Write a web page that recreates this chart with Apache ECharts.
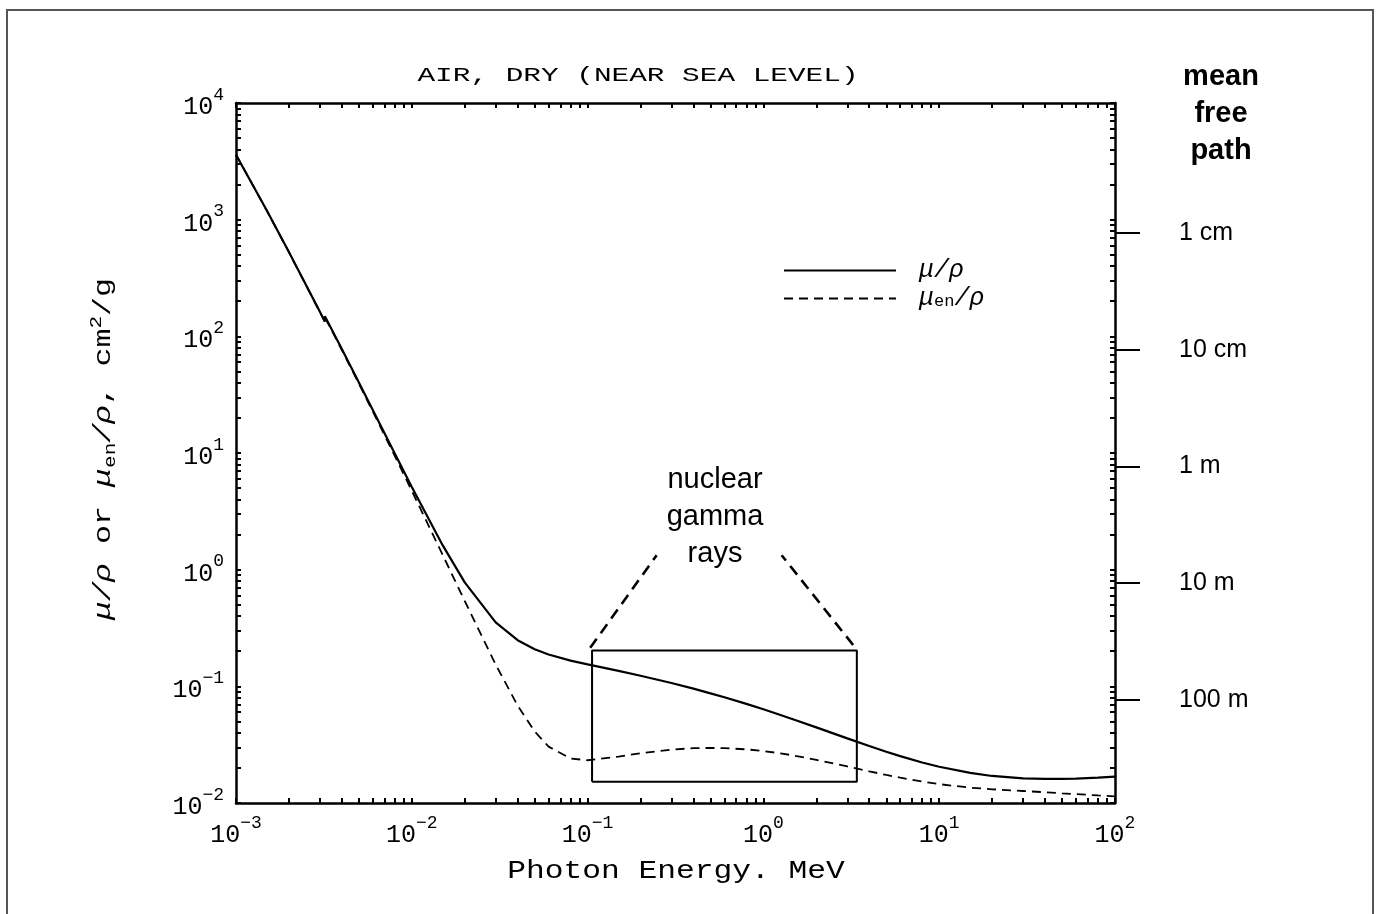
<!DOCTYPE html>
<html>
<head>
<meta charset="utf-8">
<script src="https://cdn.jsdelivr.net/npm/echarts@6/dist/echarts.min.js"></script>
<style>
  html, body { margin: 0; padding: 0; background: #fff; }
  #chart { width: 1377px; height: 914px; }
</style>
</head>
<body>
<div id="chart"></div>
<script>
// Photon energies (MeV) for dry air near sea level; the argon K edge appears twice
const energies = [1e-3, 1.5e-3, 2e-3, 3e-3, 3.2029e-3, 3.2029e-3, 4e-3, 5e-3, 6e-3, 8e-3,
  1e-2, 1.5e-2, 2e-2, 3e-2, 4e-2, 5e-2, 6e-2, 8e-2, 0.1, 0.15, 0.2, 0.3, 0.4, 0.5, 0.6, 0.8,
  1, 1.25, 1.5, 2, 3, 4, 5, 6, 8, 10, 15, 20, 30, 40, 50, 60, 80, 100];
// Mass attenuation coefficient mu/rho, cm^2/g
const muRho = [3606, 1191, 527.9, 162.5, 134.0, 148.5, 77.88, 40.27, 23.41, 9.921,
  5.120, 1.614, 0.7779, 0.3538, 0.2485, 0.2080, 0.1875, 0.1662, 0.1541, 0.1356, 0.1233, 0.1067, 0.09549, 0.08712, 0.08055, 0.07074,
  0.06358, 0.05687, 0.05175, 0.04447, 0.03581, 0.03079, 0.02751, 0.02522, 0.02225, 0.02045, 0.01810, 0.01705, 0.01624, 0.01607, 0.01610, 0.01620, 0.01649, 0.01681];
// Mass energy-absorption coefficient mu_en/rho, cm^2/g
const muEnRho = [3599, 1188, 526.2, 161.4, 133.0, 146.0, 76.36, 39.31, 22.70, 9.446,
  4.742, 1.334, 0.5389, 0.1537, 0.06833, 0.04098, 0.03041, 0.02407, 0.02325, 0.02496, 0.02672, 0.02872, 0.02949, 0.02966, 0.02953, 0.02882,
  0.02789, 0.02666, 0.02547, 0.02345, 0.02057, 0.01870, 0.01740, 0.01647, 0.01525, 0.01450, 0.01353, 0.01311, 0.01267, 0.01237, 0.01211, 0.01192, 0.01161, 0.01139];

// Nuclear gamma-ray window (MeV, cm^2/g) and its callout lines
const boxEnergy = [0.106, 3.4];
const boxCoef = [0.0152, 0.203];
const leftCallout = [[0.1035, 0.214], [0.247, 1.33]];
const rightCallout = [[3.24, 0.226], [1.27, 1.33]];

// Axis tick labels
const xDecades = [1e-3, 1e-2, 1e-1, 1, 10, 100];
const yDecades = [1e-2, 1e-1, 1, 10, 100, 1e3, 1e4];
// Mean free path scale (cm) on the right
const airDensity = 1.3e-3; // g/cm^3
const mfpValues = [1, 10, 100, 1000, 10000];
const mfpLabels = ['1 cm', '10 cm', '1 m', '10 m', '100 m'];

const MONO = '"Liberation Mono", "DejaVu Sans Mono", monospace';
const SANS = '"Liberation Sans", Arial, sans-serif';

function minorTicks(lo, hi) {
  const out = [];
  for (let e = lo; e < hi; e++) {
    for (let k = 1; k <= 9; k++) out.push(k * Math.pow(10, e));
  }
  out.push(Math.pow(10, hi));
  return out;
}
const xTicks = minorTicks(-3, 2);
const yTicks = minorTicks(-2, 4);

function powLabel(v) {
  const e = Math.round(Math.log10(v));
  return '{b|10}{s|' + (e < 0 ? '\u2212' + (-e) : e) + '}';
}
const powRich = {
  b: { fontFamily: MONO, fontSize: 25, color: '#000', verticalAlign: 'bottom', lineHeight: 34 },
  s: { fontFamily: MONO, fontSize: 18, color: '#000', verticalAlign: 'top', lineHeight: 34 }
};

const frameLine = { show: true, lineStyle: { color: '#000', width: 2.5 } };
const innerTick = (vals) => ({ show: true, inside: true, length: 5, customValues: vals, lineStyle: { color: '#000', width: 2 } });

const chart = echarts.init(document.getElementById('chart'));
chart.setOption({
  animation: false,
  backgroundColor: '#fff',
  grid: { left: 236, right: 262, top: 103, bottom: 111, containLabel: false },
  xAxis: [
    {
      type: 'log', min: 1e-3, max: 100, position: 'bottom',
      axisLine: frameLine, axisTick: innerTick(xTicks), splitLine: { show: false },
      axisLabel: { customValues: xDecades, formatter: powLabel, rich: powRich, margin: 11 }
    },
    {
      type: 'log', min: 1e-3, max: 100, position: 'top',
      axisLine: frameLine, axisTick: innerTick(xTicks), splitLine: { show: false },
      axisLabel: { show: false }
    }
  ],
  yAxis: [
    {
      type: 'log', min: 1e-2, max: 1e4, position: 'left',
      axisLine: frameLine, axisTick: innerTick(yTicks), splitLine: { show: false },
      axisLabel: { customValues: yDecades, formatter: powLabel, rich: powRich, margin: 12 }
    },
    {
      type: 'log', min: 1e-2, max: 1e4, position: 'right',
      axisLine: frameLine, axisTick: innerTick(yTicks), splitLine: { show: false },
      axisLabel: { show: false }
    },
    {
      type: 'log', position: 'right', inverse: true,
      min: 1 / (airDensity * 1e4), max: 1 / (airDensity * 1e-2),
      axisLine: { show: false }, splitLine: { show: false },
      axisTick: { show: true, inside: false, length: 25, customValues: mfpValues, lineStyle: { color: '#000', width: 2 } },
      axisLabel: {
        customValues: mfpValues, margin: 64, align: 'left',
        fontFamily: SANS, fontSize: 25, color: '#000',
        formatter: (v) => mfpLabels[mfpValues.findIndex(m => Math.abs(Math.log10(m) - Math.log10(v)) < 1e-6)] || ''
      }
    }
  ],
  legend: {
    left: 783, top: 258, orient: 'vertical', padding: 0,
    itemWidth: 112, itemHeight: 14, itemGap: 3,
    itemStyle: { opacity: 0 },
    data: ['mu', 'muen'],
    formatter: (n) => n === 'mu' ? '{i|\u03bc/\u03c1}' : '{i|\u03bc}{sb|en}{i|/\u03c1}',
    textStyle: {
      padding: [0, 0, 0, 18],
      rich: {
        i: { fontFamily: MONO, fontStyle: 'italic', fontSize: 25, color: '#000', lineHeight: 22 },
        sb: { fontFamily: MONO, fontSize: 17, color: '#000', verticalAlign: 'bottom', lineHeight: 16 }
      }
    }
  },
  series: [
    {
      name: 'mu', type: 'line', symbol: 'none',
      lineStyle: { color: '#000', width: 2.2 }, itemStyle: { color: '#000' },
      data: energies.map((e, i) => [e, muRho[i]])
    },
    {
      name: 'muen', type: 'line', symbol: 'none',
      lineStyle: { color: '#000', width: 1.8, type: [9, 6] }, itemStyle: { color: '#000' },
      data: energies.map((e, i) => [e, muEnRho[i]])
    },
    {
      name: 'window', type: 'line', symbol: 'none', silent: true,
      lineStyle: { color: '#000', width: 2 },
      data: [[boxEnergy[0], boxCoef[0]], [boxEnergy[1], boxCoef[0]], [boxEnergy[1], boxCoef[1]],
             [boxEnergy[0], boxCoef[1]], [boxEnergy[0], boxCoef[0]]]
    },
    {
      name: 'calloutL', type: 'line', symbol: 'none', silent: true,
      lineStyle: { color: '#000', width: 2.6, type: [11, 7] },
      data: leftCallout
    },
    {
      name: 'calloutR', type: 'line', symbol: 'none', silent: true,
      lineStyle: { color: '#000', width: 2.6, type: [11, 7] },
      data: rightCallout
    }
  ],
  graphic: [
    {
      type: 'rect', shape: { x: 7, y: 10, width: 1366, height: 920 },
      style: { fill: 'none', stroke: '#555', lineWidth: 2 }, silent: true
    },
    {
      type: 'text', x: 638, y: 75, scaleX: 1.4,
      style: { text: 'AIR, DRY (NEAR SEA LEVEL)', fontFamily: MONO, fontSize: 21, fill: '#000',
               align: 'center', verticalAlign: 'middle', textAlign: 'center', textVerticalAlign: 'middle' }
    },
    {
      type: 'text', x: 676, y: 871, scaleX: 1.25,
      style: { text: 'Photon Energy. MeV', fontFamily: MONO, fontSize: 25, fill: '#000',
               align: 'center', verticalAlign: 'middle', textAlign: 'center', textVerticalAlign: 'middle' }
    },
    {
      type: 'text', x: 104, y: 449, rotation: Math.PI / 2, scaleX: 1.32,
      style: {
        text: '{i|\u03bc/\u03c1}{n| or }{i|\u03bc}{sb|en}{i|/\u03c1}{n|, cm}{sp|2}{n|/g}',
        align: 'center', verticalAlign: 'middle', textAlign: 'center', textVerticalAlign: 'middle',
        rich: {
          i: { fontFamily: MONO, fontStyle: 'italic', fontSize: 24, fill: '#000', lineHeight: 30 },
          n: { fontFamily: MONO, fontSize: 24, fill: '#000', lineHeight: 30 },
          sb: { fontFamily: MONO, fontSize: 16, fill: '#000', verticalAlign: 'bottom', lineHeight: 30 },
          sp: { fontFamily: MONO, fontSize: 16, fill: '#000', verticalAlign: 'top', lineHeight: 30 }
        }
      }
    },
    {
      type: 'text', x: 1221, y: 114,
      style: { text: 'mean\nfree\npath', fontFamily: SANS, fontWeight: 'bold', fontSize: 29, lineHeight: 37, fill: '#000',
               align: 'center', verticalAlign: 'middle', textAlign: 'center', textVerticalAlign: 'middle' }
    },
    {
      type: 'text', x: 715, y: 517,
      style: { text: 'nuclear\ngamma\nrays', fontFamily: SANS, fontSize: 29, lineHeight: 37, fill: '#000',
               align: 'center', verticalAlign: 'middle', textAlign: 'center', textVerticalAlign: 'middle' }
    }
  ]
});
</script>
</body>
</html>
